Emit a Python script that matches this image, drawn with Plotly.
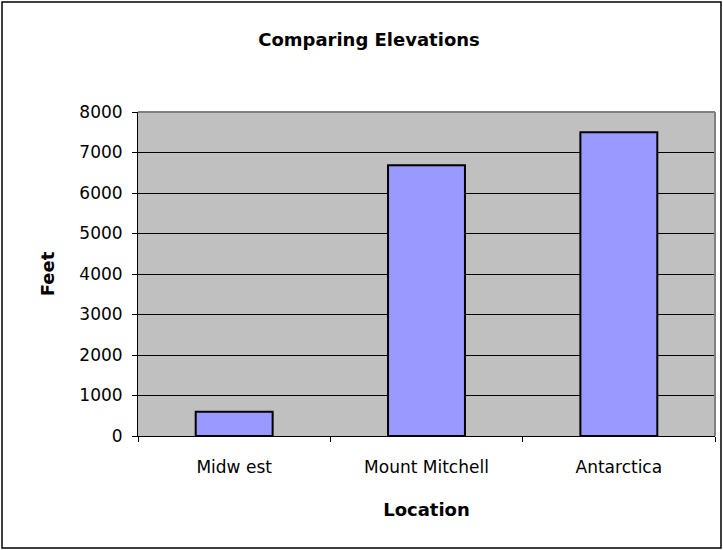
import plotly.graph_objects as go

categories = ["Midw est", "Mount Mitchell", "Antarctica"]
elevations_ft = [600, 6684, 7500]
y_ticks = [0, 1000, 2000, 3000, 4000, 5000, 6000, 7000, 8000]

W, H = 723, 550
L, R, T, B = 138, 8, 112, 114
pw, ph = W - L - R, H - T - B

def px_x(x):
    return (x - L) / pw

def px_y(y):
    return (H - B - y) / ph

FONT = "DejaVu Sans, Arial, sans-serif"

fig = go.Figure(go.Bar(
    x=categories, y=elevations_ft,
    marker=dict(color="#9999FF", line=dict(color="black", width=2)),
    width=0.4,
))

fig.update_layout(
    width=W, height=H,
    margin=dict(l=L, r=R, t=T, b=B),
    paper_bgcolor="white",
    plot_bgcolor="#C0C0C0",
    showlegend=False,
    title=dict(text="<b>Comparing Elevations</b>", x=369 / W,
               xanchor="center", y=1 - 40 / H, yanchor="middle",
               font=dict(family=FONT, size=18, color="black")),
    font=dict(family=FONT, size=17, color="black"),
    bargap=0.6,
)

fig.update_xaxes(
    showline=True, linecolor="black", linewidth=1,
    ticks="outside", tickson="boundaries", ticklen=5, tickcolor="black",
    showgrid=False, ticklabelstandoff=16,
    tickfont=dict(family=FONT, size=17, color="black"),
    title=dict(text="<b>Location</b>", standoff=26,
               font=dict(family=FONT, size=18, color="black")),
)
fig.update_yaxes(
    range=[0, 8000], tickvals=y_ticks,
    showline=True, linecolor="black", linewidth=1,
    ticks="outside", ticklen=5, tickcolor="black",
    showgrid=True, gridcolor="black", gridwidth=1,
    zeroline=False, ticklabelstandoff=6,
    tickfont=dict(family=FONT, size=17, color="black"),
    title=dict(text="<b>Feet</b>", standoff=20,
               font=dict(family=FONT, size=18, color="black")),
)

# plot-area border (grey, top and right) and outer chart frame
fig.add_shape(type="line", xref="paper", yref="paper", x0=0, x1=1, y0=1, y1=1,
              line=dict(color="#808080", width=2), layer="above")
fig.add_shape(type="line", xref="paper", yref="paper", x0=1, x1=1, y0=0, y1=1,
              line=dict(color="#808080", width=2), layer="above")
fig.add_shape(type="rect", xref="paper", yref="paper",
              x0=px_x(2), x1=px_x(721), y0=px_y(548), y1=px_y(2),
              line=dict(color="black", width=1.5), fillcolor="rgba(0,0,0,0)",
              layer="above")

fig.write_html("out.html", config={"displayModeBar": False},
               post_script="document.body.style.margin='0';document.body.style.overflow='hidden';")
